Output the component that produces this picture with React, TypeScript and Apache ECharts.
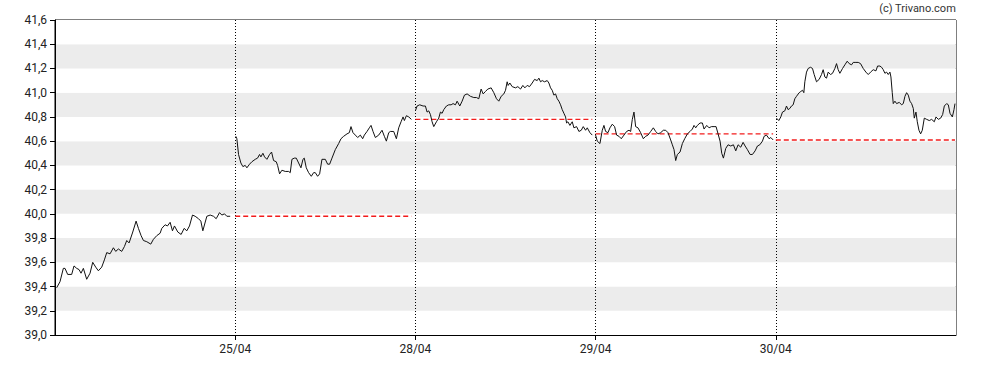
import React, { useEffect, useRef } from "react";
import * as echarts from "echarts";

// x = minutes into a 540-minute session; each day occupies one unit on the x axis
const SESSION_MINUTES = 540;
const X_LABELS = ["", "25/04", "28/04", "29/04", "30/04", ""];
const X_TICKS = [1, 2, 3, 4];
const Y_MIN = 39.0;
const Y_MAX = 41.6;
const Y_STEP = 0.2;
const COPYRIGHT = "(c) Trivano.com";

const day1: [number, number][] = [
  [5, 39.39], [15, 39.44], [25, 39.55], [30, 39.55], [38, 39.5], [50, 39.5], [57, 39.57], [65, 39.55],
  [72, 39.54], [78, 39.51], [85, 39.55], [95, 39.46], [105, 39.51], [113, 39.6], [122, 39.56], [130, 39.53],
  [140, 39.56], [148, 39.62], [155, 39.68], [165, 39.67], [175, 39.72], [182, 39.69], [190, 39.71], [200, 39.69],
  [208, 39.73], [215, 39.78], [222, 39.76], [233, 39.85], [243, 39.94], [250, 39.88], [258, 39.82], [265, 39.78],
  [275, 39.77], [287, 39.75], [295, 39.79], [305, 39.82], [315, 39.84], [320, 39.88], [330, 39.91], [337, 39.9],
  [345, 39.93], [352, 39.86], [358, 39.9], [368, 39.85], [378, 39.83], [387, 39.88], [395, 39.86], [403, 39.9],
  [412, 39.99], [420, 39.98], [430, 39.96], [437, 39.94], [443, 39.86], [455, 39.98], [465, 39.99], [475, 39.98],
  [483, 39.96], [493, 40.01], [500, 39.99], [508, 40.0], [515, 39.98], [525, 39.98],
];

const day2: [number, number][] = [
  [2, 40.64], [5, 40.62], [10, 40.49], [17, 40.42], [23, 40.39], [30, 40.4], [35, 40.38], [43, 40.41],
  [50, 40.43], [60, 40.45], [67, 40.46], [73, 40.49], [77, 40.47], [83, 40.5], [88, 40.47], [95, 40.45],
  [103, 40.49], [109, 40.51], [115, 40.44], [123, 40.43], [127, 40.4], [133, 40.33], [140, 40.36], [150, 40.35],
  [160, 40.35], [165, 40.34], [170, 40.45], [177, 40.46], [183, 40.46], [190, 40.42], [197, 40.38], [203, 40.45],
  [207, 40.46], [213, 40.38], [220, 40.34], [228, 40.31], [235, 40.34], [240, 40.34], [247, 40.31], [253, 40.33],
  [260, 40.45], [270, 40.45], [277, 40.41], [283, 40.41], [290, 40.46], [300, 40.53], [310, 40.58], [317, 40.62],
  [325, 40.64], [335, 40.66], [342, 40.67], [347, 40.72], [353, 40.67], [360, 40.65], [367, 40.63], [375, 40.65],
  [382, 40.62], [387, 40.65], [395, 40.68], [402, 40.71], [407, 40.73], [413, 40.68], [420, 40.63], [430, 40.65],
  [440, 40.69], [447, 40.64], [453, 40.6], [460, 40.67], [465, 40.68], [475, 40.68], [483, 40.62], [490, 40.71],
  [497, 40.76], [503, 40.8], [507, 40.77], [513, 40.81], [520, 40.8], [528, 40.78],
];

const day3: [number, number][] = [
  [0, 40.85], [5, 40.89], [13, 40.9], [23, 40.89], [30, 40.89], [35, 40.84], [40, 40.85], [45, 40.82],
  [50, 40.76], [55, 40.72], [63, 40.76], [70, 40.79], [75, 40.84], [80, 40.83], [85, 40.86], [93, 40.89],
  [100, 40.9], [107, 40.9], [113, 40.91], [120, 40.9], [125, 40.93], [133, 40.89], [140, 40.93], [147, 40.98],
  [155, 40.99], [165, 40.97], [175, 40.96], [183, 40.96], [190, 40.95], [197, 41.03], [203, 40.99], [210, 41.01],
  [217, 41.03], [227, 41.04], [235, 41.0], [243, 40.95], [250, 40.93], [257, 40.97], [265, 40.99], [270, 41.02],
  [275, 41.09], [278, 41.06], [283, 41.08], [290, 41.05], [300, 41.04], [307, 41.05], [315, 41.03], [322, 41.06],
  [328, 41.04], [335, 41.06], [342, 41.05], [350, 41.08], [357, 41.11], [365, 41.1], [370, 41.12], [375, 41.09],
  [380, 41.1], [387, 41.09], [395, 41.1], [400, 41.08], [405, 41.04], [410, 41.02], [415, 40.98], [420, 40.99],
  [425, 40.95], [430, 40.93], [435, 40.9], [440, 40.86], [445, 40.83], [450, 40.8], [453, 40.75], [457, 40.76],
  [463, 40.73], [470, 40.76], [475, 40.71], [483, 40.72], [490, 40.68], [497, 40.69], [503, 40.72], [510, 40.69],
  [515, 40.71], [523, 40.67], [530, 40.65],
];

const day4: [number, number][] = [
  [0, 40.65], [5, 40.6], [13, 40.58], [20, 40.69], [25, 40.73], [30, 40.68], [37, 40.67], [43, 40.71],
  [50, 40.74], [57, 40.72], [63, 40.65], [70, 40.64], [77, 40.62], [85, 40.65], [93, 40.68], [100, 40.69],
  [105, 40.68], [110, 40.78], [115, 40.84], [120, 40.72], [127, 40.71], [135, 40.67], [143, 40.62], [150, 40.64],
  [157, 40.65], [165, 40.68], [173, 40.71], [180, 40.68], [187, 40.66], [195, 40.67], [203, 40.69], [210, 40.69],
  [217, 40.67], [225, 40.61], [230, 40.57], [235, 40.53], [240, 40.44], [245, 40.49], [253, 40.51], [260, 40.58],
  [267, 40.62], [275, 40.66], [283, 40.68], [290, 40.7], [295, 40.73], [300, 40.71], [305, 40.73], [313, 40.75],
  [320, 40.75], [325, 40.7], [333, 40.73], [340, 40.71], [347, 40.72], [355, 40.72], [361, 40.72], [367, 40.66],
  [373, 40.6], [378, 40.5], [383, 40.46], [390, 40.54], [397, 40.57], [405, 40.56], [413, 40.57], [420, 40.52],
  [427, 40.57], [435, 40.55], [442, 40.59], [448, 40.56], [455, 40.53], [463, 40.49], [470, 40.49], [478, 40.52],
  [485, 40.56], [492, 40.57], [500, 40.6], [505, 40.64], [512, 40.65], [520, 40.62], [525, 40.63], [532, 40.61],
];

const day5: [number, number][] = [
  [2, 40.79], [9, 40.77], [15, 40.8], [20, 40.84], [27, 40.85], [32, 40.89], [37, 40.86], [42, 40.87],
  [47, 40.89], [52, 40.9], [57, 40.95], [62, 40.97], [70, 41.0], [75, 41.01], [80, 41.02], [84, 41.0],
  [87, 41.09], [92, 41.17], [97, 41.2], [104, 41.21], [110, 41.2], [115, 41.15], [122, 41.09], [130, 41.11],
  [137, 41.15], [142, 41.19], [147, 41.13], [152, 41.12], [157, 41.17], [164, 41.15], [170, 41.16], [177, 41.2],
  [182, 41.24], [187, 41.19], [192, 41.16], [200, 41.2], [207, 41.23], [214, 41.26], [220, 41.24], [227, 41.23],
  [232, 41.25], [240, 41.25], [247, 41.25], [254, 41.24], [262, 41.2], [270, 41.17], [277, 41.15], [284, 41.17],
  [292, 41.19], [300, 41.18], [305, 41.22], [312, 41.22], [317, 41.21], [322, 41.19], [327, 41.16], [332, 41.17],
  [337, 41.15], [342, 41.17], [345, 41.13], [349, 41.0], [352, 40.91], [357, 40.93], [362, 40.91], [370, 40.92],
  [377, 40.9], [382, 40.91], [387, 40.97], [392, 41.0], [397, 40.98], [402, 40.93], [407, 40.91], [412, 40.87],
  [415, 40.79], [420, 40.84], [424, 40.76], [429, 40.69], [434, 40.66], [439, 40.69], [445, 40.79], [452, 40.78],
  [460, 40.77], [467, 40.78], [475, 40.76], [480, 40.8], [487, 40.78], [494, 40.79], [500, 40.82], [505, 40.89],
  [512, 40.91], [517, 40.9], [522, 40.83], [529, 40.8], [534, 40.86], [537, 40.91],
];

const days = [day1, day2, day3, day4, day5];
const prevClose: (number | null)[] = [null, 39.98, 40.78, 40.66, 40.61];

const FONT = "Roboto, 'Liberation Sans', Arial, sans-serif";

export default function App() {
  const ref = useRef<HTMLDivElement>(null);

  useEffect(() => {
    document.body.style.margin = "0";
    if (!ref.current) return;
    const chart = echarts.init(ref.current, undefined, { renderer: "svg" });

    const priceSeries = days.map((d, i) => ({
      type: "line",
      name: "price" + i,
      data: d.map(([t, v]) => [i + t / SESSION_MINUTES, v]),
      showSymbol: false,
      symbol: "none",
      lineStyle: { color: "#111", width: 1 },
      z: 3,
    }));

    const closeSeries = days
      .map((d, i) => {
        const pc = prevClose[i];
        if (pc == null) return null;
        const end = d[d.length - 1][0];
        return {
          type: "line",
          name: "close" + i,
          data: [
            [i, pc],
            [i + end / SESSION_MINUTES, pc],
          ],
          showSymbol: false,
          symbol: "none",
          lineStyle: { color: "#f21c1c", width: 1.4, type: [5, 3] },
          z: 2,
        };
      })
      .filter(Boolean);

    chart.setOption({
      animation: false,
      grid: {
        left: 55,
        right: 32,
        top: 20,
        bottom: 35,
        show: true,
        borderColor: "#000",
        borderWidth: 1,
        backgroundColor: "transparent",
      },
      graphic: [
        {
          type: "text",
          right: 32,
          top: 3,
          style: { text: COPYRIGHT, fontSize: 11, fill: "#333", fontFamily: FONT },
        },
      ],
      xAxis: {
        type: "value",
        min: 0,
        max: X_LABELS.length - 1,
        interval: 1,
        axisLine: { show: true, lineStyle: { color: "#000", width: 1 } },
        axisTick: { show: true, length: 5, customValues: X_TICKS, lineStyle: { color: "#000" } },
        axisLabel: {
          customValues: X_TICKS,
          formatter: (v: number) => X_LABELS[Math.round(v)] ?? "",
          color: "#222",
          fontSize: 12,
          fontFamily: FONT,
          margin: 8,
        },
        splitLine: { show: true, lineStyle: { color: "#000", type: [1, 2], width: 1 } },
      },
      yAxis: {
        type: "value",
        min: Y_MIN,
        max: Y_MAX,
        interval: Y_STEP,
        axisLine: { show: true, lineStyle: { color: "#000", width: 1 } },
        axisTick: { show: true, length: 5, lineStyle: { color: "#000" } },
        axisLabel: {
          formatter: (v: number) => v.toFixed(1).replace(".", ","),
          color: "#222",
          fontSize: 12,
          fontFamily: FONT,
          margin: 8,
        },
        splitLine: { show: false },
        splitArea: { show: true, areaStyle: { color: ["#ffffff", "#ececec"] } },
      },
      series: [...closeSeries, ...priceSeries],
    });

    return () => chart.dispose();
  }, []);

  return <div ref={ref} style={{ width: 988, height: 370 }} />;
}
